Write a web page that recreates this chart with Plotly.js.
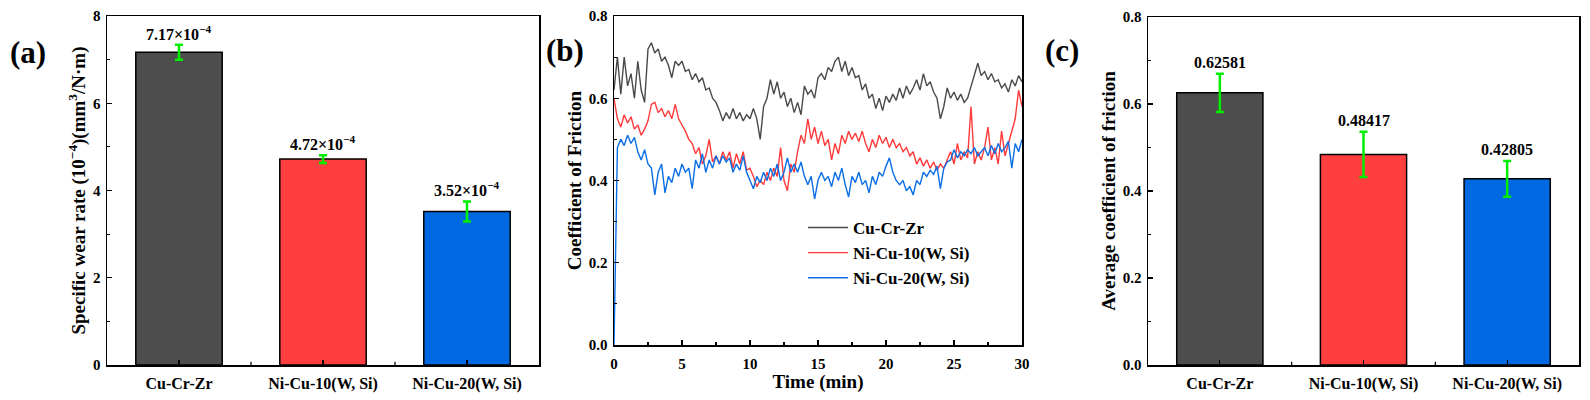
<!DOCTYPE html>
<html>
<head>
<meta charset="utf-8">
<script src="https://cdn.plot.ly/plotly-3.0.1.min.js"></script>
<style>html,body{margin:0;padding:0;background:#fff;}#chart{width:1590px;height:400px;}</style>
</head>
<body>
<div id="chart"></div>
<script>
// ---- data ----
const categories = ['Cu-Cr-Zr', 'Ni-Cu-10(W, Si)', 'Ni-Cu-20(W, Si)'];
const barColors = ['#4d4d4d', '#ff3f3f', '#0068e0'];

const wearRate = [7.17, 4.72, 3.52];
const wearErr = [0.17, 0.09, 0.23];
const wearLabels = ['7.17×10<sup>−4</sup>', '4.72×10<sup>−4</sup>', '3.52×10<sup>−4</sup>'];

const avgCOF = [0.62581, 0.48417, 0.42805];
const cofErr = [0.044, 0.052, 0.041];
const cofLabels = ['0.62581', '0.48417', '0.42805'];

// friction curves, sampled every 0.25 min from 0 to 30 min
const timeStart = 0;
const timeStep = 0.25;
const seriesNames = ['Cu-Cr-Zr', 'Ni-Cu-10(W, Si)', 'Ni-Cu-20(W, Si)'];
const lineColors = ['#4a4a4a', '#ff3a3a', '#0a6ee6'];
const cofCuCrZr = [
  0.62,0.70,0.61,0.70,0.63,0.66,0.60,0.69,0.62,0.59,
  0.72,0.735,0.71,0.72,0.69,0.70,0.68,0.65,0.69,0.68,
  0.69,0.665,0.67,0.645,0.66,0.64,0.65,0.62,0.625,0.60,
  0.59,0.57,0.545,0.565,0.55,0.575,0.55,0.565,0.545,0.56,
  0.55,0.575,0.55,0.50,0.58,0.60,0.645,0.61,0.64,0.60,
  0.615,0.58,0.60,0.565,0.59,0.56,0.63,0.61,0.62,0.60,
  0.65,0.66,0.645,0.675,0.665,0.69,0.70,0.665,0.69,0.655,
  0.675,0.65,0.655,0.62,0.635,0.60,0.61,0.575,0.60,0.57,
  0.605,0.59,0.61,0.595,0.625,0.60,0.63,0.61,0.625,0.645,
  0.62,0.66,0.63,0.64,0.615,0.60,0.55,0.58,0.625,0.60,
  0.615,0.595,0.61,0.59,0.60,0.63,0.66,0.685,0.655,0.665,
  0.645,0.66,0.64,0.645,0.625,0.635,0.615,0.645,0.63,0.655,
  0.64
];
const cofNiCu10 = [
  0.60,0.55,0.53,0.56,0.54,0.555,0.525,0.535,0.51,0.525,
  0.545,0.585,0.59,0.565,0.575,0.555,0.57,0.55,0.585,0.55,
  0.535,0.52,0.50,0.49,0.465,0.48,0.44,0.46,0.50,0.445,
  0.46,0.44,0.47,0.45,0.47,0.43,0.465,0.44,0.47,0.425,
  0.43,0.41,0.385,0.40,0.39,0.42,0.40,0.43,0.41,0.48,
  0.40,0.375,0.44,0.42,0.47,0.51,0.49,0.55,0.50,0.53,
  0.49,0.52,0.485,0.50,0.45,0.49,0.465,0.51,0.49,0.52,
  0.50,0.515,0.495,0.52,0.49,0.47,0.50,0.48,0.51,0.49,
  0.505,0.48,0.50,0.48,0.49,0.47,0.48,0.46,0.47,0.44,
  0.455,0.435,0.45,0.43,0.445,0.425,0.44,0.43,0.45,0.47,
  0.44,0.49,0.45,0.47,0.455,0.58,0.44,0.47,0.45,0.48,
  0.53,0.45,0.48,0.44,0.52,0.46,0.49,0.52,0.55,0.62,
  0.58
];
const cofNiCu20 = [
  0.0,0.48,0.50,0.485,0.51,0.49,0.505,0.47,0.45,0.475,
  0.44,0.43,0.365,0.42,0.44,0.37,0.41,0.395,0.43,0.41,
  0.44,0.42,0.43,0.38,0.45,0.43,0.465,0.42,0.45,0.43,
  0.46,0.44,0.46,0.445,0.455,0.42,0.44,0.425,0.46,0.42,
  0.40,0.38,0.41,0.395,0.42,0.40,0.43,0.41,0.44,0.40,
  0.42,0.455,0.42,0.44,0.42,0.445,0.41,0.39,0.41,0.355,
  0.40,0.42,0.40,0.41,0.385,0.42,0.40,0.43,0.39,0.36,
  0.41,0.395,0.42,0.39,0.40,0.37,0.41,0.39,0.42,0.41,
  0.435,0.455,0.42,0.40,0.39,0.40,0.375,0.385,0.365,0.40,
  0.39,0.42,0.41,0.425,0.415,0.435,0.38,0.43,0.445,0.45,
  0.475,0.455,0.47,0.46,0.475,0.465,0.48,0.46,0.47,0.48,
  0.46,0.485,0.465,0.49,0.47,0.48,0.495,0.43,0.49,0.47,
  0.50
];
const cofSeries = [cofCuCrZr, cofNiCu10, cofNiCu20];

// ---- styling ----
const FONT = 'Liberation Serif, "Times New Roman", serif';
const tickFont = {family: FONT, size: 15, color: '#000', weight: 'bold'};
const catFont = {family: FONT, size: 16, color: '#000', weight: 'bold'};
const titleFont = {family: FONT, size: 19, color: '#000', weight: 'bold'};

function axis(extra) {
  return Object.assign({
    showline: true, linecolor: '#000', linewidth: 1.5, mirror: true,
    ticks: 'inside', ticklen: 5, tickwidth: 1.3, tickcolor: '#000',
    showgrid: false, zeroline: false, tickfont: tickFont, automargin: false,
    fixedrange: true
  }, extra);
}

const errStyle = (arr) => ({type: 'data', array: arr, visible: true, color: '#00ee00', thickness: 2.5, width: 4});

const traces = [
  {
    type: 'bar', x: categories, y: wearRate, xaxis: 'x', yaxis: 'y', width: 0.6,
    marker: {color: barColors, line: {color: '#000', width: 1.5}},
    error_y: errStyle(wearErr), showlegend: false, hoverinfo: 'skip'
  },
  {
    type: 'bar', x: categories, y: avgCOF, xaxis: 'x3', yaxis: 'y3', width: 0.6,
    marker: {color: barColors, line: {color: '#000', width: 1.5}},
    error_y: errStyle(cofErr), showlegend: false, hoverinfo: 'skip'
  }
];
cofSeries.forEach((s, i) => {
  traces.push({
    type: 'scatter', mode: 'lines', name: seriesNames[i],
    x0: timeStart, dx: timeStep, y: s, xaxis: 'x2', yaxis: 'y2',
    line: {color: lineColors[i], width: 1.4}, hoverinfo: 'skip'
  });
});

const annotations = [];
categories.forEach((c, i) => {
  annotations.push({xref: 'x', yref: 'y', x: c, y: wearRate[i] + wearErr[i], text: wearLabels[i],
    showarrow: false, yanchor: 'bottom', yshift: 0, font: {family: FONT, size: 16, color: '#000', weight: 'bold'}});
  annotations.push({xref: 'x3', yref: 'y3', x: c, y: avgCOF[i] + cofErr[i], text: cofLabels[i],
    showarrow: false, yanchor: 'bottom', yshift: 1, font: {family: FONT, size: 16, color: '#000', weight: 'bold'}});
});
[['(a)', 28, 52], ['(b)', 565, 50], ['(c)', 1062, 50]].forEach(p => {
  annotations.push({xref: 'paper', yref: 'paper', x: p[1] / 1590, y: 1 - p[2] / 400, text: p[0],
    showarrow: false, xanchor: 'center', yanchor: 'middle', font: {family: FONT, size: 31, color: '#000', weight: 'bold'}});
});

// small boundary ticks between categories on bar charts
const shapes = [];
[['x', 'y'], ['x3', 'y3']].forEach(a => {
  [0.5, 1.5].forEach(b => {
    shapes.push({type: 'line', xref: a[0], yref: a[1] + ' domain', x0: b, x1: b, y0: 0, y1: 0.009,
      line: {color: '#000', width: 1.2}});
  });
});

const layout = {
  width: 1590, height: 400,
  margin: {l: 0, r: 0, t: 0, b: 0},
  paper_bgcolor: '#fff', plot_bgcolor: '#fff',
  font: {family: FONT, color: '#000'},
  bargap: 0.4,
  xaxis: axis({domain: [107/1590, 539/1590], anchor: 'y', type: 'category', range: [-0.5, 2.5],
    tickfont: catFont, ticklabelstandoff: 3}),
  yaxis: axis({domain: [1 - 365/400, 1 - 16/400], anchor: 'x', range: [0, 8], dtick: 2,
    ticklabelstandoff: 2,
    minor: {ticks: 'inside', dtick: 1, ticklen: 3, tickcolor: '#000', tickwidth: 1.2},
    title: {text: 'Specific wear rate (10<sup>−4</sup>)(mm<sup>3</sup>/N·m)', font: titleFont, standoff: 2}}),
  xaxis2: axis({domain: [614/1590, 1022/1590], anchor: 'y2', range: [0, 30], dtick: 5,
    ticklabelstandoff: 4,
    minor: {ticks: 'inside', dtick: 2.5, ticklen: 3, tickcolor: '#000', tickwidth: 1.2},
    title: {text: 'Time (min)', font: titleFont, standoff: 0}}),
  yaxis2: axis({domain: [1 - 345/400, 1 - 16/400], anchor: 'x2', range: [0, 0.8], dtick: 0.2, tickformat: '.1f',
    ticklabelstandoff: 2,
    minor: {ticks: 'inside', dtick: 0.1, ticklen: 3, tickcolor: '#000', tickwidth: 1.2},
    title: {text: 'Coefficient of Friction', font: titleFont, standoff: 2}}),
  xaxis3: axis({domain: [1148/1590, 1579/1590], anchor: 'y3', type: 'category', range: [-0.5, 2.5],
    tickfont: catFont, ticklabelstandoff: 3}),
  yaxis3: axis({domain: [1 - 365/400, 1 - 17/400], anchor: 'x3', range: [0, 0.8], dtick: 0.2, tickformat: '.1f',
    ticklabelstandoff: 2,
    minor: {ticks: 'inside', dtick: 0.1, ticklen: 3, tickcolor: '#000', tickwidth: 1.2},
    title: {text: 'Average coefficient of friction', font: titleFont, standoff: 2}}),
  showlegend: true,
  legend: {x: 803/1590, y: 1 - 210/400, xanchor: 'left', yanchor: 'top', bgcolor: 'rgba(0,0,0,0)',
    itemwidth: 40,
    font: {family: FONT, size: 17, color: '#000', weight: 'bold'}, tracegroupgap: 0},
  annotations: annotations,
  shapes: shapes
};

Plotly.newPlot('chart', traces, layout, {displayModeBar: false, staticPlot: true});
</script>
</body>
</html>
